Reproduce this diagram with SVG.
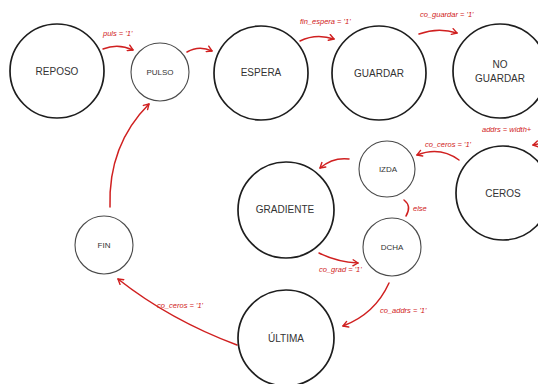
<svg xmlns="http://www.w3.org/2000/svg" width="538" height="384" viewBox="0 0 538 384">
<style>
.big{fill:#fff;stroke:#1e1e1e;stroke-width:1.7}
.small{fill:#fff;stroke:#4a4a4a;stroke-width:1.1}
.t{font-family:"Liberation Sans",Arial,sans-serif;fill:#333;text-anchor:middle;dominant-baseline:central}
.tb{font-size:10px}
.ts{font-size:8px}
.c{fill:none;stroke:#d02020;stroke-width:1.5;stroke-linecap:round}
.l{font-family:"Liberation Sans",Arial,sans-serif;font-size:7.5px;font-style:italic;fill:#d02020}
</style>
<defs>
<marker id="ah" markerWidth="8" markerHeight="8" refX="6" refY="4" orient="auto" markerUnits="userSpaceOnUse">
<path d="M1,1 L6,4 L1,7" fill="none" stroke="#d02020" stroke-width="1.4" stroke-linecap="round" stroke-linejoin="round"/>
</marker>
</defs>
<rect width="538" height="384" fill="#fff"/>
<g id="connectors">
<path class="c" d="M103,49 Q118,43 133,50" marker-end="url(#ah)"/>
<path class="c" d="M187,52 Q199,45 212,51" marker-end="url(#ah)"/>
<path class="c" d="M300,41 Q316,33 334,39" marker-end="url(#ah)"/>
<path class="c" d="M419,34 Q438,27 457,33" marker-end="url(#ah)"/>
<path class="c" d="M459,160 Q440,146 417,155" marker-end="url(#ah)"/>
<path class="c" d="M538,144 L533,145" marker-end="url(#ah)"/>
<path class="c" d="M349,159 Q333,157 320,168" marker-end="url(#ah)"/>
<path class="c" d="M404,200 Q412,206 406,216"/>
<path class="c" d="M319,253 Q337,262 358,263" marker-end="url(#ah)"/>
<path class="c" d="M389,283 Q375,314 343,326" marker-end="url(#ah)"/>
<path class="c" d="M237,345 Q170,320 118,279" marker-end="url(#ah)"/>
<path class="c" d="M110,207 Q108,145 149,104" marker-end="url(#ah)"/>
<text class="l" x="103" y="36">puls = '1'</text>
<text class="l" x="300" y="24">fin_espera = '1'</text>
<text class="l" x="420" y="17">co_guardar = '1'</text>
<text class="l" x="482" y="132">addrs = width+</text>
<text class="l" x="425" y="147">co_ceros = '1'</text>
<text class="l" x="413" y="211">else</text>
<text class="l" x="319" y="272">co_grad = '1'</text>
<text class="l" x="380" y="313">co_addrs = '1'</text>
<text class="l" x="157" y="308">co_ceros = '1'</text>
</g>
<g id="REPOSO"><circle class="big" cx="57" cy="71" r="47"/><text class="t tb" x="57" y="71">REPOSO</text></g>
<g id="PULSO"><circle class="small" cx="160" cy="72" r="29"/><text class="t ts" x="160" y="72">PULSO</text></g>
<g id="ESPERA"><circle class="big" cx="261" cy="73" r="47"/><text class="t tb" x="261" y="72">ESPERA</text></g>
<g id="GUARDAR"><circle class="big" cx="379" cy="73" r="47"/><text class="t tb" x="379" y="73">GUARDAR</text></g>
<g id="NO_GUARDAR"><circle class="big" cx="500" cy="71" r="47"/><text class="t tb" x="500" y="64">NO</text><text class="t tb" x="500" y="78">GUARDAR</text></g>
<g id="CEROS"><circle class="big" cx="503" cy="193" r="47"/><text class="t tb" x="503" y="193">CEROS</text></g>
<g id="IZDA"><circle class="small" cx="387" cy="169" r="28"/><text class="t ts" x="388" y="169">IZDA</text></g>
<g id="GRADIENTE"><circle class="big" cx="286" cy="210" r="48"/><text class="t tb" x="285" y="209">GRADIENTE</text></g>
<g id="DCHA"><circle class="small" cx="392" cy="247" r="29"/><text class="t ts" x="392" y="247">DCHA</text></g>
<g id="FIN"><circle class="small" cx="104" cy="245" r="29"/><text class="t ts" x="104" y="245">FIN</text></g>
<g id="ULTIMA"><circle class="big" cx="286" cy="338" r="48"/><text class="t tb" x="286" y="338">ÚLTIMA</text></g>
</svg>
